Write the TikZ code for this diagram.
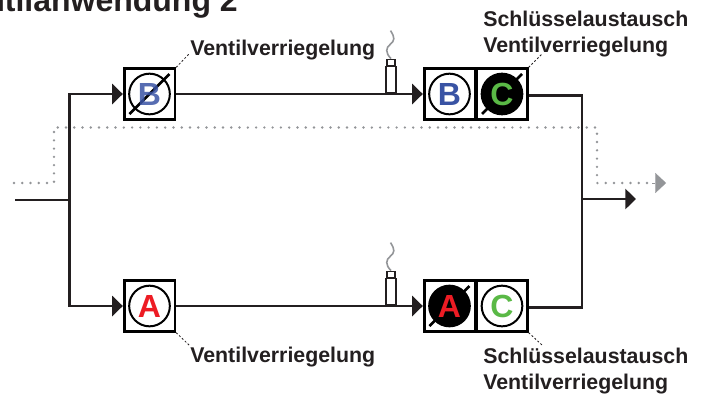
\documentclass[tikz,border=0pt]{standalone}
\usepackage{fontspec}
\setmainfont{Liberation Sans}
\usetikzlibrary{arrows.meta}
\definecolor{inkblack}{HTML}{231F20}
\definecolor{dotgray}{HTML}{939598}
\definecolor{letterblue}{HTML}{3953A4}
\definecolor{lettergreen}{HTML}{5AB946}
\definecolor{letterred}{HTML}{ED1C24}
\tikzset{
    vbox/.style={draw=black,line width=2pt,minimum size=38pt,inner sep=0pt},
    vcirc/.style={circle,draw=black,line width=1.5pt,minimum size=30.5pt,inner sep=0pt,font=\bfseries\fontsize{24}{24}\selectfont},
    vslash/.style={draw=black,line width=2pt},
    pipe/.style={draw=inkblack,line width=2pt},
    pipearrow/.style={pipe,-{Triangle[length=8pt,width=15pt]}},
    flowdots/.style={draw=dotgray,line width=2pt,line cap=round,dash pattern=on 0pt off 6.2pt},
    dotarrow/.style={draw=dotgray,line width=0.1pt,-{Triangle[length=8pt,width=15pt,fill=dotgray]}},
    sensor/.style={draw=inkblack,line width=0.9pt,fill=white,inner sep=0pt},
    smoke/.style={draw=dotgray,line width=1.2pt},
    leader/.style={draw=inkblack,line width=0.6pt,dash pattern=on 1.5pt off 1.5pt},
    vlabel/.style={font=\bfseries\fontsize{16}{19.5}\selectfont,text=inkblack,align=left,inner sep=0pt}
}
\begin{document}
\begin{tikzpicture}[x=0.75pt,y=-0.75pt]
    \useasboundingbox (0,0) rectangle (706,394);
    \clip (0,0) rectangle (706,394);
    \node[anchor=base east,inner sep=0pt,font=\bfseries\fontsize{24}{24}\selectfont,text=inkblack] (title) at (238,11.5) {Ventilanwendung 2};
    % boxes
    \node[vbox] (boxB) at (149.5,94) {};
    \node[vbox] (boxBB) at (449.5,94) {};
    \node[vbox] (boxBC) at (502,94) {};
    \node[vbox] (boxA) at (149.5,306) {};
    \node[vbox] (boxAA) at (449.5,306) {};
    \node[vbox] (boxAC) at (502,306) {};
    % crossed out ones
    \foreach \b in {boxB,boxBC,boxAA}
        \draw [vslash] ([shift={(-20,20)}]\b.center) to ([shift={(20,-20)}]\b.center);
    \node[vcirc,text=letterblue,text opacity=0.85] (circB) at (boxB) {B};
    \node[vcirc,text=letterblue] (circBB) at (boxBB) {B};
    \node[vcirc,fill=black,text=lettergreen] (circBC) at (boxBC) {C};
    \node[vcirc,text=letterred] (circA) at (boxA) {A};
    \node[vcirc,fill=black,text=letterred] (circAA) at (boxAA) {A};
    \node[vcirc,text=lettergreen] (circAC) at (boxAC) {C};
    % pipes
    \coordinate (inlet) at (15,200);
    \coordinate (split) at (69.5,200);
    \coordinate (merge) at (582,199);
    \coordinate (outlet) at (636,199);
    \draw [pipe] (inlet) to (split);
    \draw [pipearrow] (split) |- (boxB.west);
    \draw [pipearrow] (split) |- (boxA.west);
    \draw [pipearrow] (boxB.east) to (boxBB.west);
    \draw [pipearrow] (boxA.east) to (boxAA.west);
    \draw [pipe] ([yshift=-1.3pt]boxBC.east) -| (merge);
    \draw [pipe] ([yshift=-1.3pt]boxAC.east) -| (merge);
    \draw [pipearrow] (merge) to (outlet);
    % sensors
    \foreach \y/\n in {93/T,305/U}
        {\node[sensor,minimum width=7.5pt,minimum height=19.5pt,anchor=south] (tube\n) at (391,\y) {};
        \node[sensor,minimum width=6pt,minimum height=4.5pt,anchor=south] (cap\n) at (tube\n.north) {};
        \begin{scope}[shift={(cap\n.north)}]
        \draw [smoke] (0,0) .. controls (-6,-6) and (-5,-11) .. (-1,-14) .. controls (4,-18) and (4,-21) .. (-0.5,-28);
        \end{scope}}
    % dotted path
    \coordinate (dotstart) at (14,183);
    \coordinate (dotend) at (652,183);
    \coordinate (dottip) at (666,183);
    \draw [flowdots] (dotstart) -| (54,127.5) -- (597,127.5) |- (dotend);
    \draw [dotarrow] (dotend) to (dottip);
    % labels
    \node[vlabel,anchor=base west] (lockB) at (190,55.5) {Ventilverriegelung};
    \node[vlabel,anchor=base west] (lockA) at (190,362.5) {Ventilverriegelung};
    \node[vlabel,anchor=base west] (swapB) at (483,26) {Schlüsselaustausch};
    \node[vlabel,anchor=base west] (swapBb) at (483,52) {Ventilverriegelung};
    \node[vlabel,anchor=base west] (swapA) at (483,363.5) {Schlüsselaustausch};
    \node[vlabel,anchor=base west] (swapAb) at (483,389.5) {Ventilverriegelung};
    \coordinate (tipB) at (189,54);
    \coordinate (tipBC) at (542,54);
    \coordinate (tipA) at (189,345);
    \coordinate (tipAC) at (542,345);
    \draw [leader] (boxB.north east) to (tipB);
    \draw [leader] (boxBC.north east) to (tipBC);
    \draw [leader] (boxA.south east) to (tipA);
    \draw [leader] (boxAC.south east) to (tipAC);
\end{tikzpicture}
\end{document}
